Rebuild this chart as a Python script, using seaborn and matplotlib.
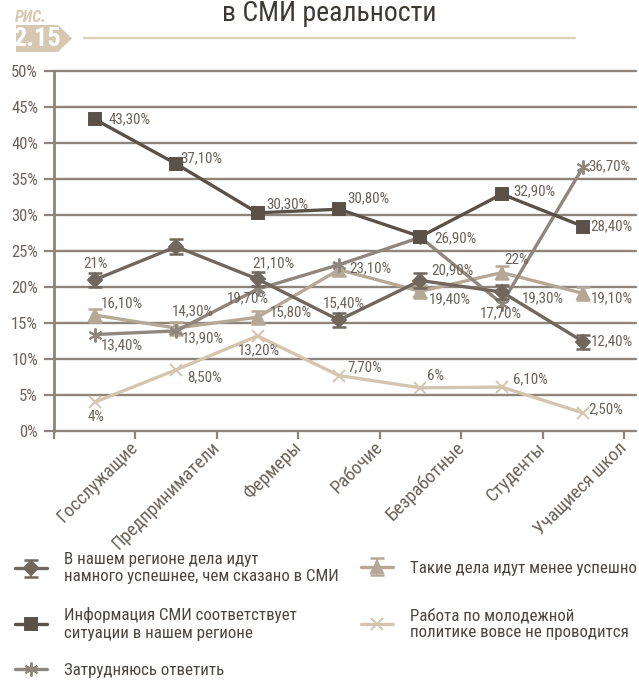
import matplotlib
matplotlib.use('Agg')
import matplotlib.pyplot as plt
import matplotlib.transforms as mtrans
from matplotlib import font_manager
from matplotlib.lines import Line2D
from matplotlib.patches import Polygon
from matplotlib.legend_handler import HandlerTuple
import seaborn as sns
import numpy as np

# ---------------- data ----------------
categories = ['Госслужащие', 'Предприниматели', 'Фермеры', 'Рабочие',
              'Безработные', 'Студенты', 'Учащиеся школ']

better = [21.0, 25.6, 21.1, 15.4, 20.9, 19.3, 12.4]
better_labels = ['21%', None, '21,10%', '15,40%', '20,90%', '19,30%', '12,40%']

matches = [43.3, 37.1, 30.3, 30.8, 27.0, 32.9, 28.4]
matches_labels = ['43,30%', '37,10%', '30,30%', '30,80%', None, '32,90%', '28,40%']

hard = [13.4, 13.9, 19.7, 23.1, 26.9, 17.7, 36.7]
hard_labels = ['13,40%', '13,90%', '19,70%', '23,10%', '26,90%', '17,70%', '36,70%']

worse = [16.1, 14.3, 15.8, 22.4, 19.4, 22.0, 19.1]
worse_labels = ['16,10%', '14,30%', '15,80%', None, '19,40%', '22%', '19,10%']

no_work = [4.0, 8.5, 13.2, 7.7, 6.0, 6.1, 2.5]
no_work_labels = ['4%', '8,50%', '13,20%', '7,70%', '6%', '6,10%', '2,50%']

series_names = [
    'В нашем регионе дела идут\nнамного успешнее, чем сказано в СМИ',
    'Информация СМИ соответствует\nситуации в нашем регионе',
    'Затрудняюсь ответить',
    'Такие дела идут менее успешно',
    'Работа по молодежной\nполитике вовсе не проводится',
]
better_err = [1.0] * 7
worse_err = [0.9] * 7

yticks = [0, 5, 10, 15, 20, 25, 30, 35, 40, 45, 50]
ytick_labels = ['0%', '5%', '10%', '15%', '20%', '25%', '30%', '35%', '40%', '45%', '50%']

title = 'в СМИ реальности'

# ---------------- style ----------------
W, H = 639, 682
sns.set_theme(style='white')

available = {f.name for f in font_manager.fontManager.ttflist}
fam = None
for cand in ['Liberation Sans Narrow', 'Roboto Condensed', 'Open Sans Condensed',
             'DejaVu Sans Condensed', 'Roboto']:
    if cand in available:
        fam = cand
        break
if fam is None:
    fam = 'DejaVu Sans'
plt.rcParams['font.family'] = [fam, 'DejaVu Sans']

narrow = fam in ('Liberation Sans Narrow', 'Roboto Condensed', 'Open Sans Condensed',
                 'DejaVu Sans Condensed')
k = 1.0 if narrow else 0.86   # shrink factor when only a normal-width family exists

grid_c = '#8d857a'
text_c = '#6b635b'
c_better = '#70675e'
c_match = '#5a5148'
c_hard = '#8f877e'
c_worse = '#b5a897'
c_none = '#d3c5ae'

fig = plt.figure(figsize=(W / 100, H / 100), dpi=100)
fig.patch.set_facecolor('white')

ax_left, ax_right, ax_top, ax_bot = 54, 624, 71, 431
ax = fig.add_axes([ax_left / W, 1 - ax_bot / H, (ax_right - ax_left) / W, (ax_bot - ax_top) / H])
ax.set_facecolor('none')

for yv in yticks:
    ax.axhline(yv, xmin=0, xmax=(636 - ax_left) / (ax_right - ax_left), color=grid_c,
               lw=1.7, clip_on=False, zorder=1)

x = np.arange(len(categories))

specs = [
    (no_work, no_work_labels, c_none, 'x', 8, None, series_names[4]),
    (worse, worse_labels, c_worse, '^', 8, worse_err, series_names[3]),
    (hard, hard_labels, c_hard, (6, 2, 0), 10, None, series_names[2]),
    (better, better_labels, c_better, 'D', 7.5, better_err, series_names[0]),
    (matches, matches_labels, c_match, 's', 8.5, None, series_names[1]),
]

handles = {}
for z, (vals, labs, col, mk, ms, err, name) in enumerate(specs):
    sns.lineplot(x=categories, y=vals, ax=ax, color=col, marker=mk, markersize=ms,
                 markeredgecolor=col, markerfacecolor=col, markeredgewidth=1.4,
                 linewidth=2.4, sort=False, zorder=3 + z, label=name)
    line = ax.lines[-1]
    if err is not None:
        eb = ax.errorbar(x, vals, yerr=err, fmt='none', ecolor=col, elinewidth=1.6,
                         capsize=5, capthick=1.8, zorder=3 + z)
        handles[name] = (line, eb)
    else:
        handles[name] = line
if ax.legend_ is not None:
    ax.legend_.remove()

offsets = {
    series_names[1]: [(14, 0), (4, -6), (9, -9), (8, -11), None, (11, -3), (7, 0)],
    series_names[0]: [(-11, -16), None, (-5, -16), (-16, -17), (11, -10), (20, 6), (8, 0)],
    series_names[3]: [(6, -12), (-4, -17), (12, -5), None, (8, 8), (2, -13), (8, 5)],
    series_names[2]: [(6, 11), (6, 7), (-31, 9), (10, 4), (14, 1), (-22, 10), (5, 0)],
    series_names[4]: [(-7, 15), (11, 7), (-20, 14), (8, -8), (7, -12), (11, -8), (5, -4)],
}
for vals, labs, col, mk, ms, err, name in specs:
    for i, (v, lab) in enumerate(zip(vals, labs)):
        if lab is None:
            continue
        dx, dy = offsets[name][i]
        ax.annotate(lab, (x[i], v), xytext=(dx, -dy), textcoords='offset pixels',
                    ha='left', va='center', fontsize=10.8 * k, color=text_c, zorder=20)

ax.set_xlim(-0.5, len(categories) - 0.5)
ax.set_ylim(0, 50)
ax.set_xlabel('')
ax.set_ylabel('')
for s in ['top', 'right', 'bottom']:
    ax.spines[s].set_visible(False)
ax.spines['left'].set_color(grid_c)
ax.spines['left'].set_linewidth(2.0)
ax.spines['left'].set_zorder(2)

ax.set_yticks(yticks)
ax.set_yticklabels(ytick_labels)
ax.tick_params(axis='y', length=7, width=1.6, color=grid_c, labelcolor=text_c,
               labelsize=12 * k, pad=4.5, left=True)

ax.set_xticks(x)
ax.set_xticks(np.arange(-0.5, len(categories), 1.0), minor=True)
ax.tick_params(axis='x', which='major', length=0, labelsize=13.5 * k, labelcolor=text_c, pad=10)
ax.tick_params(axis='x', which='minor', length=6, width=1.6, color=grid_c, bottom=True)
ax.set_xticklabels(categories, rotation=45, ha='right', rotation_mode='anchor', va='center')
shift = mtrans.ScaledTranslation(41 / 100, 0, fig.dpi_scale_trans)
for lbl in ax.get_xticklabels():
    lbl.set_transform(lbl.get_transform() + shift)

# ---------------- header ----------------
fig.text(329 / W, 1 - 21 / H, title, ha='center', va='baseline', fontsize=20 * k, color='#3d3935')
badge_c = '#d6c8b1'
pts = [(16, 25), (58, 25), (72, 38.5), (58, 52), (16, 52)]
fig.add_artist(Polygon([(px / W, 1 - py / H) for px, py in pts], closed=True,
                       transform=fig.transFigure, facecolor=badge_c, edgecolor='none'))
fig.text(37 / W, 1 - 39 / H, '2.15', ha='center', va='center', fontsize=19 * k,
         fontweight='bold', color='white')
fig.text(15 / W, 1 - 17 / H, 'РИС.', ha='left', va='center', fontsize=11.5 * k,
         fontweight='bold', fontstyle='italic', color=badge_c)
fig.add_artist(Line2D([84 / W, 575 / W], [1 - 38 / H, 1 - 38 / H], transform=fig.transFigure,
                      color='#dccfba', lw=1.6))

# ---------------- legend ----------------
leg_pos = [
    (series_names[0], 15, 568),
    (series_names[1], 15, 624),
    (series_names[2], 15, 670),
    (series_names[3], 361, 568),
    (series_names[4], 361, 624),
]
for name, lx, ly in leg_pos:
    fig.legend(handles=[handles[name]], labels=[name], loc='center left',
               bbox_to_anchor=(lx / W, 1 - ly / H), frameon=False, fontsize=12.2 * k,
               handlelength=1.9, handletextpad=1.0, borderpad=0, borderaxespad=0,
               labelcolor='#4a4541', handler_map={tuple: HandlerTuple(ndivide=1)})

fig.savefig('out.png', dpi=100, facecolor='white')
